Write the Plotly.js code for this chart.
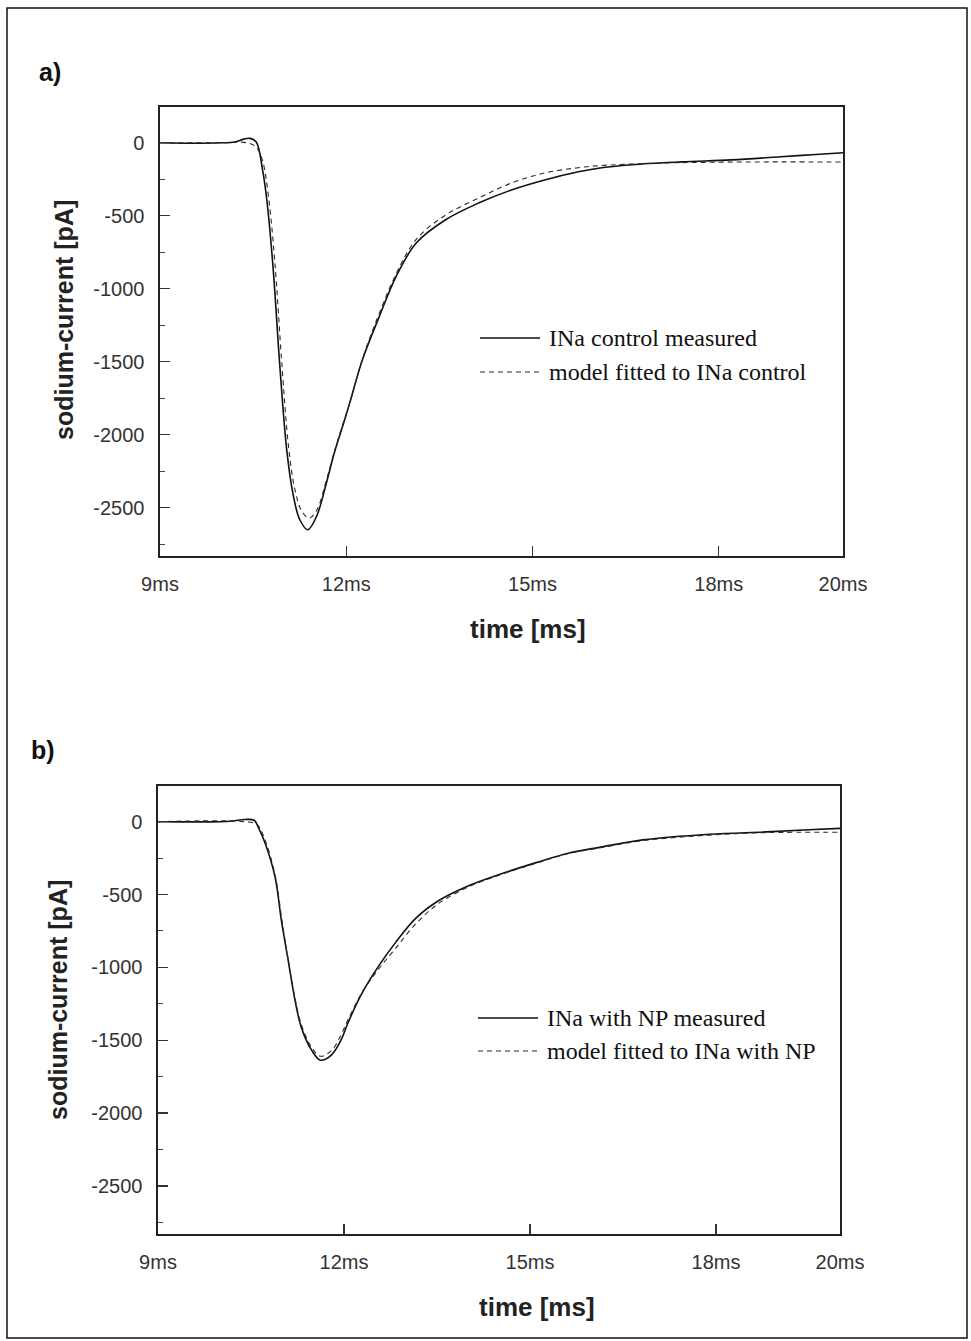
<!DOCTYPE html>
<html>
<head>
<meta charset="utf-8">
<script src="https://cdn.plot.ly/plotly-3.0.1.min.js"></script>
<style>
  html, body { margin: 0; padding: 0; background: #fff; }
  #chart { width: 971px; height: 1341px; }
</style>
</head>
<body>
<div id="chart"></div>
<script>
// ---------- data ----------
// Panel a: control
const tA_meas = [9.0, 9.5, 10.0, 10.2, 10.35, 10.45, 10.55, 10.65, 10.72, 10.82, 10.93, 11.04, 11.14, 11.25, 11.38, 11.52, 11.68, 11.81, 11.95, 12.05, 12.26, 12.53, 12.80, 13.13, 13.60, 14.14, 14.67, 15.21, 15.74, 16.06, 16.6, 17.4, 18.2, 19.0, 19.5, 20.0];
const iA_meas = [0, -3, 0, 5, 25, 30, 5, -180, -390, -850, -1530, -2100, -2400, -2580, -2650, -2560, -2330, -2120, -1930, -1790, -1486, -1192, -918, -685, -527, -411, -322, -253, -199, -174, -150, -131, -117, -96, -82, -68];
const tA_model = [9.0, 10.0, 10.4, 10.55, 10.65, 10.75, 10.85, 10.96, 11.07, 11.17, 11.28, 11.40, 11.52, 11.68, 11.81, 11.95, 12.05, 12.26, 12.53, 12.80, 13.13, 13.60, 14.14, 14.67, 15.21, 15.74, 16.06, 17.0, 18.0, 19.0, 20.0];
const iA_model = [0, 0, 0, -30, -120, -380, -820, -1500, -2080, -2370, -2520, -2570, -2520, -2310, -2110, -1920, -1790, -1480, -1170, -900, -660, -495, -377, -274, -205, -171, -157, -140, -133, -131, -132];

// Panel b: with NP
const tB_meas = [9.0, 10.0, 10.2, 10.4, 10.55, 10.62, 10.73, 10.89, 10.99, 11.10, 11.21, 11.31, 11.48, 11.62, 11.80, 11.95, 12.07, 12.28, 12.56, 12.83, 13.16, 13.53, 14.02, 14.55, 15.10, 15.63, 16.12, 16.82, 17.9, 18.82, 19.5, 20.0];
const iB_meas = [0, 0, 5, 15, 10, -40, -150, -383, -678, -952, -1226, -1410, -1570, -1637, -1600, -1500, -1375, -1185, -990, -830, -662, -541, -438, -356, -281, -215, -176, -125, -86, -70, -55, -46];
const tB_model = [9.0, 10.4, 10.6, 10.73, 10.89, 11.0, 11.1, 11.21, 11.31, 11.48, 11.62, 11.80, 11.95, 12.07, 12.28, 12.56, 12.83, 13.16, 13.53, 14.02, 14.55, 15.10, 15.63, 16.12, 16.82, 17.9, 18.82, 20.0];
const iB_model = [0, 0, -20, -130, -370, -680, -950, -1210, -1390, -1550, -1610, -1570, -1465, -1355, -1180, -1010, -870, -700, -560, -445, -360, -285, -218, -180, -130, -92, -75, -73];

const xTickVals = [9, 12, 15, 18, 20];
const xTickText = ['9ms', '12ms', '15ms', '18ms', '20ms'];
const yTickVals = [0, -500, -1000, -1500, -2000, -2500];
const yTickText = ['0', '-500', '-1000', '-1500', '-2000', '-2500'];
const yMinorVals = [-250, -750, -1250, -1750, -2250, -2750];

const namesA = ['INa control measured', 'model fitted to INa control'];
const namesB = ['INa with NP measured', 'model fitted to INa with NP'];
const xTitle = 'time [ms]';
const yTitle = 'sodium-current [pA]';

// ---------- layout helpers ----------
const W = 971, H = 1341;
const px = v => v / W;
const py = v => 1 - v / H;

const sansFont = 'Liberation Sans, Arial, Helvetica, sans-serif';
const serifFont = 'Liberation Serif, Times New Roman, serif';

const solid = {color: '#111', width: 1.6, dash: 'solid'};
const dashed = {color: '#2a2a2a', width: 1.1, dash: '5px,4px'};

const traces = [
  {x: tA_meas, y: iA_meas, name: namesA[0], mode: 'lines', line: solid, xaxis: 'x', yaxis: 'y'},
  {x: tA_model, y: iA_model, name: namesA[1], mode: 'lines', line: dashed, xaxis: 'x', yaxis: 'y'},
  {x: tB_meas, y: iB_meas, name: namesB[0], mode: 'lines', line: solid, xaxis: 'x2', yaxis: 'y2'},
  {x: tB_model, y: iB_model, name: namesB[1], mode: 'lines', line: dashed, xaxis: 'x2', yaxis: 'y2'}
];
traces.forEach(t => { t.showlegend = false; t.line = Object.assign({shape: 'spline', smoothing: 1.0}, t.line); });

function xAxis(domain, anchor) {
  return {
    domain: domain, anchor: anchor, range: [9, 20],
    tickvals: xTickVals, ticktext: xTickText,
    ticks: 'inside', ticklen: 10, tickwidth: 1.2, tickcolor: '#333',
    showline: true, mirror: true, linecolor: '#222', linewidth: 1.6,
    showgrid: false, zeroline: false, automargin: false,
    ticklabelstandoff: 9,
    tickfont: {family: sansFont, size: 20, color: '#333'}
  };
}
function yAxis(domain, anchor) {
  return {
    domain: domain, anchor: anchor, range: [-2830, 245],
    tickvals: yTickVals, ticktext: yTickText,
    ticks: 'inside', ticklen: 10, tickwidth: 1.2, tickcolor: '#333',
    minor: {tickvals: yMinorVals, ticks: 'inside', ticklen: 5, tickwidth: 1, tickcolor: '#444'},
    showline: true, mirror: true, linecolor: '#222', linewidth: 1.6,
    showgrid: false, zeroline: false, automargin: false,
    ticklabelstandoff: 10,
    tickfont: {family: sansFont, size: 20, color: '#333'}
  };
}

const legendA = {lineY: 338, line2Y: 372, x0: 480, x1: 540, tx: 547};
const legendB = {lineY: 1018, line2Y: 1051, x0: 478, x1: 538, tx: 545};

const shapes = [
  // outer frame
  {type: 'rect', xref: 'paper', yref: 'paper', x0: px(7), x1: px(967), y0: py(1338), y1: py(8), line: {color: '#111', width: 1.5}},
  // legend samples
  {type: 'line', xref: 'paper', yref: 'paper', x0: px(legendA.x0), x1: px(legendA.x1), y0: py(legendA.lineY), y1: py(legendA.lineY), line: solid},
  {type: 'line', xref: 'paper', yref: 'paper', x0: px(legendA.x0), x1: px(legendA.x1), y0: py(legendA.line2Y), y1: py(legendA.line2Y), line: dashed},
  {type: 'line', xref: 'paper', yref: 'paper', x0: px(legendB.x0), x1: px(legendB.x1), y0: py(legendB.lineY), y1: py(legendB.lineY), line: solid},
  {type: 'line', xref: 'paper', yref: 'paper', x0: px(legendB.x0), x1: px(legendB.x1), y0: py(legendB.line2Y), y1: py(legendB.line2Y), line: dashed}
];

const legFont = {family: serifFont, size: 24, color: '#111'};
const titleFontX = {family: sansFont, size: 26, color: '#222'};
const titleFontY = {family: sansFont, size: 25, color: '#222'};
const ann = (text, x, y, font, extra) => Object.assign({text: text, xref: 'paper', yref: 'paper', x: px(x), y: py(y), xanchor: 'left', yanchor: 'middle', showarrow: false, font: font}, extra || {});

const annotations = [
  ann('<b>a)</b>', 37, 72, {family: sansFont, size: 25, color: '#111'}),
  ann('<b>b)</b>', 29, 750, {family: sansFont, size: 25, color: '#111'}),
  ann(namesA[0], legendA.tx, legendA.lineY, legFont),
  ann(namesA[1], legendA.tx, legendA.line2Y, legFont),
  ann(namesB[0], legendB.tx, legendB.lineY, legFont),
  ann(namesB[1], legendB.tx, legendB.line2Y, legFont),
  ann('<b>' + xTitle + '</b>', 528, 629, titleFontX, {xanchor: 'center'}),
  ann('<b>' + xTitle + '</b>', 537, 1307, titleFontX, {xanchor: 'center'}),
  ann('<b>' + yTitle + '</b>', 64, 320, titleFontY, {xanchor: 'center', textangle: -90}),
  ann('<b>' + yTitle + '</b>', 58, 1000, titleFontY, {xanchor: 'center', textangle: -90})
];

const layout = {
  width: W, height: H,
  margin: {l: 0, r: 0, t: 0, b: 0, pad: 0},
  paper_bgcolor: '#fff', plot_bgcolor: '#fff',
  showlegend: false,
  xaxis: xAxis([px(160), px(843)], 'y'),
  yaxis: yAxis([py(556), py(107)], 'x'),
  xaxis2: xAxis([px(158), px(840)], 'y2'),
  yaxis2: yAxis([py(1234), py(786)], 'x2'),
  shapes: shapes,
  annotations: annotations
};

Plotly.newPlot('chart', traces, layout, {displayModeBar: false, staticPlot: true});
</script>
</body>
</html>
